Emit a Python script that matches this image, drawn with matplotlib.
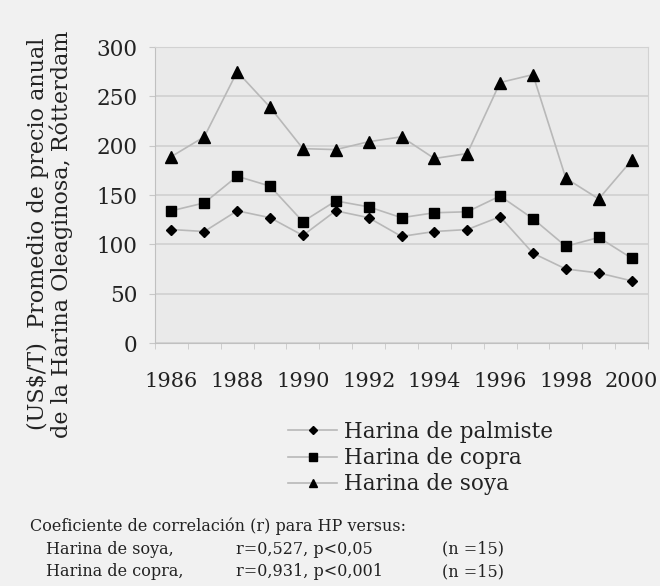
import numpy as np
import matplotlib
matplotlib.use('Agg')
import matplotlib.pyplot as plt

years = np.arange(1986, 2001)
palmiste = [115, 113, 134, 127, 109, 134, 127, 108, 113, 115, 128, 91, 75, 71, 63]
copra = [134, 142, 169, 159, 123, 144, 138, 127, 132, 133, 149, 126, 98, 107, 86]
soya = [189, 209, 275, 239, 197, 196, 204, 209, 187, 192, 264, 272, 167, 146, 185]

series_labels = ['Harina de palmiste', 'Harina de copra', 'Harina de soya']
ylabel_text = '(US$/T)  Promedio de precio anual\nde la Harina Oleaginosa, Rótterdam'

plt.rcParams['font.family'] = ['DejaVu Serif']

fig = plt.figure(figsize=(6.6, 5.86), dpi=100, facecolor='#f1f1f1')
ax = fig.add_axes([155 / 660, 1 - 343 / 586, (648 - 155) / 660, (343 - 47) / 586])
ax.set_facecolor('#eaeaea')

line_col = '#b8b8b8'
ax.plot(years, palmiste, color=line_col, lw=1.2, marker='D', ms=5.5,
        mfc='black', mec='black', label=series_labels[0])
ax.plot(years, copra, color=line_col, lw=1.2, marker='s', ms=7.5,
        mfc='black', mec='black', label=series_labels[1])
ax.plot(years, soya, color=line_col, lw=1.2, marker='^', ms=8,
        mfc='black', mec='black', label=series_labels[2])

ax.set_xlim(1985.5, 2000.5)
ax.set_ylim(0, 300)
ax.set_yticks(range(0, 301, 50))
ax.yaxis.grid(True, color='#d0d0d0', lw=1.2)
ax.set_axisbelow(True)
ax.set_xticks(range(1986, 2001, 2))
ax.set_xticks(np.arange(1985.5, 2001, 1), minor=True)
ax.tick_params(axis='x', which='major', length=0, pad=21, labelsize=15,
               labelcolor='#222222')
ax.tick_params(axis='x', which='minor', length=4, color='#c8c8c8')
ax.tick_params(axis='y', length=4, color='#c8c8c8', pad=8.5, labelsize=15.5,
               labelcolor='#222222')
for s in ax.spines.values():
    s.set_color('#d2d2d2')
ax.spines['left'].set_color('#c0c0c0')
ax.spines['bottom'].set_color('#c0c0c0')

fig.text(50 / 660, 1 - 234 / 586, ylabel_text, rotation=90, ha='center',
         va='center', fontsize=16, linespacing=1.05, color='#222222')

leg = fig.legend(loc='upper left', bbox_to_anchor=(277 / 660, 1 - 410 / 586),
                 frameon=False, fontsize=15.5, handlelength=2.3, borderpad=0,
                 handletextpad=0.3, labelspacing=0.2, markerscale=0.7)
for t in leg.get_texts():
    t.set_color('#222222')

fig.text(30 / 660, 1 - 526 / 586, 'Coeficiente de correlación (r) para HP versus:',
         fontsize=11.5, va='center', color='#222222')
rows = [('Harina de soya,', 'r=0,527, p<0,05', '(n =15)'),
        ('Harina de copra,', 'r=0,931, p<0,001', '(n =15)')]
for i, (a, b, c) in enumerate(rows):
    y = 1 - (549 + 23 * i) / 586
    fig.text(46 / 660, y, a, fontsize=11.5, va='center', color='#222222')
    fig.text(236 / 660, y, b, fontsize=11.5, va='center', color='#222222')
    fig.text(442 / 660, y, c, fontsize=11.5, va='center', color='#222222')

fig.savefig('out.png', dpi=100, facecolor=fig.get_facecolor())
